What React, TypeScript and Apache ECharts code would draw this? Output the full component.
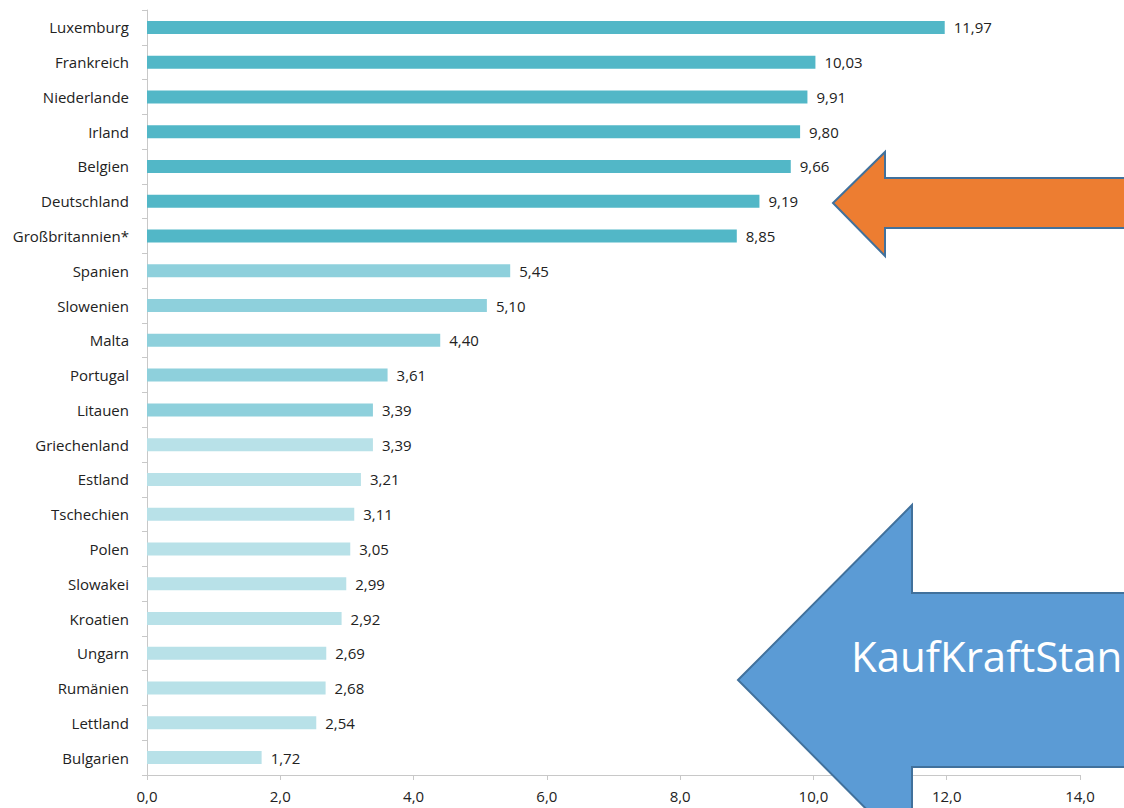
import React, { useEffect, useRef } from "react";
import * as echarts from "echarts";

const countries = [
  "Luxemburg", "Frankreich", "Niederlande", "Irland", "Belgien", "Deutschland",
  "Großbritannien*", "Spanien", "Slowenien", "Malta", "Portugal", "Litauen",
  "Griechenland", "Estland", "Tschechien", "Polen", "Slowakei", "Kroatien",
  "Ungarn", "Rumänien", "Lettland", "Bulgarien",
];
const values = [
  11.97, 10.03, 9.91, 9.8, 9.66, 9.19, 8.85, 5.45, 5.1, 4.4, 3.61, 3.39,
  3.39, 3.21, 3.11, 3.05, 2.99, 2.92, 2.69, 2.68, 2.54, 1.72,
];
const tiers = [0, 0, 0, 0, 0, 0, 0, 1, 1, 1, 1, 1, 2, 2, 2, 2, 2, 2, 2, 2, 2, 2];
const tierColors = ["#52b7c7", "#8ed0dc", "#b8e1e8"];
const xTicks = { min: 0, max: 14, interval: 2 };

export default function App() {
  const ref = useRef<HTMLDivElement>(null);
  useEffect(() => {
    if (!ref.current) return;
    const chart = echarts.init(ref.current, null, { renderer: "svg" });
    const fmt = (v: number, d: number) => v.toFixed(d).replace(".", ",");
    chart.setOption({
      animation: false,
      backgroundColor: "#ffffff",
      grid: { left: 147, right: 44, top: 10, bottom: 33, containLabel: false },
      xAxis: {
        type: "value",
        min: xTicks.min,
        max: xTicks.max,
        interval: xTicks.interval,
        axisLine: { show: true, lineStyle: { color: "#c8c8c8", width: 1 } },
        axisTick: { show: true, length: 5, lineStyle: { color: "#c8c8c8" } },
        splitLine: { show: false },
        axisLabel: {
          formatter: (v: number) => fmt(v, 1),
          color: "#222222",
          fontFamily: "Open Sans",
          fontSize: 15,
          margin: 13,
        },
      },
      yAxis: {
        type: "category",
        data: countries,
        inverse: true,
        axisLine: { show: true, lineStyle: { color: "#c8c8c8", width: 1 } },
        axisTick: { show: true, length: 5, lineStyle: { color: "#c8c8c8" } },
        axisLabel: {
          color: "#222222",
          fontFamily: "Open Sans",
          fontSize: 15,
          margin: 18,
        },
      },
      series: [
        {
          type: "bar",
          barWidth: 13,
          data: values.map((v, i) => ({
            value: v,
            itemStyle: { color: tierColors[tiers[i]] },
          })),
          label: {
            show: true,
            position: "right",
            distance: 9,
            formatter: (p: any) => fmt(p.value, 2),
            color: "#222222",
            fontFamily: "Open Sans",
            fontSize: 15,
          },
        },
      ],
      graphic: [
        {
          type: "polygon",
          z: 100,
          shape: {
            points: [
              [833, 203], [885, 152], [885, 178], [1130, 178],
              [1130, 228], [885, 228], [885, 256],
            ],
          },
          style: { fill: "#ed7d31", stroke: "#41719c", lineWidth: 2 },
        },
        {
          type: "polygon",
          z: 100,
          shape: {
            points: [
              [738, 680], [912, 505], [912, 593], [1130, 593],
              [1130, 767], [912, 767], [912, 855],
            ],
          },
          style: { fill: "#5b9bd5", stroke: "#41719c", lineWidth: 2 },
        },
        {
          type: "text",
          z: 101,
          x: 851,
          y: 655,
          style: {
            text: "KaufKraftStandard",
            fill: "#ffffff",
            font: "42px 'Open Sans'",
            verticalAlign: "middle",
            align: "left",
          },
        },
      ],
    });
    return () => chart.dispose();
  }, []);
  return (
    <div
      ref={ref}
      style={{ position: "fixed", left: 0, top: 0, width: 1124, height: 808, overflow: "hidden" }}
    />
  );
}
